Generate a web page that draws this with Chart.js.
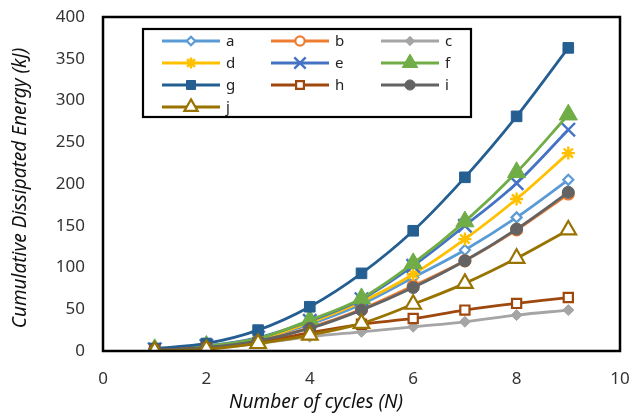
<!DOCTYPE html>
<html lang="en">
<head>
<meta charset="UTF-8">
<title>Cumulative Dissipated Energy</title>
<script src="https://cdn.jsdelivr.net/npm/chart.js"></script>
<style>
  html, body { margin: 0; padding: 0; background: #fff; }
  #wrap { width: 632px; height: 419px; }
</style>
</head>
<body>
<div id="wrap"><canvas id="energyChart" width="632" height="419"></canvas></div>
<script>
// cycles N and cumulative dissipated energy (kJ) per specimen
const cycles = [1, 2, 3, 4, 5, 6, 7, 8, 9];
const seriesNames = ['a', 'b', 'c', 'd', 'e', 'f', 'g', 'h', 'i', 'j'];
const a = [2, 5, 14, 32, 56, 88, 121, 160, 205];
const b = [1, 4, 12, 28, 50, 78, 108, 145, 188];
const c = [1, 3, 9, 17, 23, 29, 35, 43, 49];
const d = [2, 5, 14, 34, 59, 92, 134, 182, 237];
const e = [2, 6, 16, 36, 62, 102, 150, 201, 265];
const f = [2, 6, 15, 37, 63, 105, 155, 214, 283];
const g = [3, 9, 25, 53, 93, 144, 208, 281, 363];
const h = [1, 4, 10, 22, 32, 39, 49, 57, 64];
const i = [1, 4, 12, 27, 49, 76, 108, 146, 190];
const j = [0, 2, 9, 19, 33, 56, 81, 111, 145];
const seriesValues = [a, b, c, d, e, f, g, h, i, j];

const yTicks = [0, 50, 100, 150, 200, 250, 300, 350, 400];
const xTicks = [0, 2, 4, 6, 8, 10];

// marker look per series
const looks = [
  {color: '#5B9BD5', style: 'rectRot', radius: 5, fill: '#fff'},
  {color: '#ED7D31', style: 'circle', radius: 5.5, fill: '#fff'},
  {color: '#A5A5A5', style: 'rectRot', radius: 5.5, fill: null},
  {color: '#FFC000', style: 'star', radius: 6.5, fill: null},
  {color: '#4472C4', style: 'crossRot', radius: 9.5, fill: null},
  {color: '#70AD47', style: 'triangle', radius: 10.5, fill: null},
  {color: '#255E91', style: 'rect', radius: 7.5, fill: null},
  {color: '#9E480E', style: 'rect', radius: 6.5, fill: '#fff'},
  {color: '#636363', style: 'circle', radius: 6, fill: null},
  {color: '#997300', style: 'triangle', radius: 9, fill: '#fff'}
];

const FONT = '"Noto Sans", "Open Sans", sans-serif';

const datasets = seriesNames.map((name, k) => ({
  label: name,
  data: cycles.map((x, n) => ({x: x, y: seriesValues[k][n]})),
  borderColor: looks[k].color,
  backgroundColor: looks[k].fill || looks[k].color,
  borderWidth: 2.8,
  tension: 0.35,
  pointStyle: looks[k].style,
  pointRadius: looks[k].radius,
  pointBorderColor: looks[k].color,
  pointBackgroundColor: looks[k].fill || looks[k].color,
  pointBorderWidth: looks[k].fill ? 2.2 : (looks[k].style === 'crossRot' || looks[k].style === 'star' ? 2.4 : 1),
  order: 20 - k
}));

// no label overhang: the plot box sits exactly inside the layout padding
const noOverhang = s => {
  s.paddingTop = 0; s.paddingBottom = 0; s.paddingLeft = 0; s.paddingRight = 0;
};

// frame, legend box and axis titles
const decorations = {
  id: 'decorations',
  afterDraw(chart) {
    const ctx = chart.ctx;
    const area = chart.chartArea;
    ctx.save();
    ctx.strokeStyle = '#000';
    ctx.lineWidth = 2.5;
    ctx.strokeRect(area.left, area.top, area.right - area.left, area.bottom - area.top);

    // legend
    ctx.lineWidth = 2.2;
    ctx.strokeRect(143, 29, 328, 88);
    const colX = [162, 271, 381];
    const rowY = [41, 63, 85, 107];
    ctx.font = '15px ' + FONT;
    ctx.textBaseline = 'middle';
    ctx.textAlign = 'left';
    chart.data.datasets.forEach((ds, k) => {
      const x0 = colX[k % 3], y0 = rowY[Math.floor(k / 3)];
      ctx.strokeStyle = ds.borderColor;
      ctx.lineWidth = 2.8;
      ctx.beginPath();
      ctx.moveTo(x0, y0);
      ctx.lineTo(x0 + 58, y0);
      ctx.stroke();
      ctx.fillStyle = ds.pointBackgroundColor;
      ctx.strokeStyle = ds.pointBorderColor;
      ctx.lineWidth = ds.pointBorderWidth;
      Chart.helpers.drawPoint(ctx, {
        pointStyle: ds.pointStyle,
        radius: ds.pointRadius * 0.85,
        rotation: 0,
        borderWidth: ds.pointBorderWidth
      }, x0 + 29, y0);
      ctx.fillStyle = '#222';
      ctx.fillText(ds.label, x0 + 64, y0 + 1);
    });

    // axis titles
    ctx.fillStyle = '#111';
    ctx.font = 'italic 19px ' + FONT;
    ctx.textAlign = 'center';
    ctx.fillText('Number of cycles (N)', 316, 403);
    ctx.translate(21, (area.top + area.bottom) / 2 + 4);
    ctx.rotate(-Math.PI / 2);
    ctx.fillText('Cumulative Dissipated Energy (kJ)', 0, 0);
    ctx.restore();
  }
};

new Chart(document.getElementById('energyChart'), {
  type: 'line',
  data: {datasets: datasets},
  options: {
    responsive: false,
    animation: false,
    layout: {padding: {top: 17, right: 12, left: 0, bottom: 0}},
    plugins: {legend: {display: false}, tooltip: {enabled: false}},
    scales: {
      x: {
        type: 'linear',
        min: 0, max: 10,
        afterBuildTicks: s => { s.ticks = xTicks.map(v => ({value: v})); },
        afterFit: s => { s.height = 68; noOverhang(s); },
        grid: {display: false, drawTicks: false},
        border: {display: false},
        ticks: {color: '#333', padding: 18, maxRotation: 0, font: {family: FONT, size: 17}}
      },
      y: {
        min: 0, max: 400,
        afterBuildTicks: s => { s.ticks = yTicks.map(v => ({value: v})); },
        afterFit: s => { s.width = 103; noOverhang(s); },
        grid: {display: false, drawTicks: false},
        border: {display: false},
        ticks: {color: '#333', padding: 18, font: {family: FONT, size: 17}}
      }
    }
  },
  plugins: [decorations]
});
</script>
</body>
</html>
